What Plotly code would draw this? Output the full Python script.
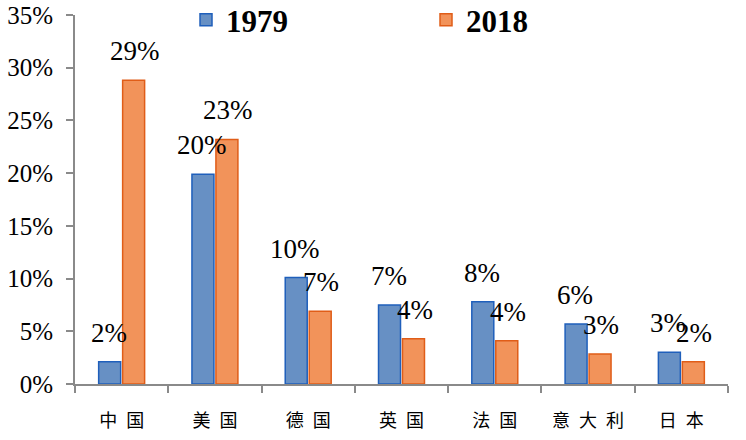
import plotly.graph_objects as go

categories = ["中\u2002国", "美\u2002国", "德\u2002国", "英\u2002国", "法\u2002国", "意\u2002大\u2002利", "日\u2002本"]
share_1979 = [2.1, 19.9, 10.1, 7.5, 7.8, 5.7, 3.0]
share_2018 = [28.8, 23.2, 6.9, 4.3, 4.1, 2.85, 2.1]
labels_1979 = ["2%", "20%", "10%", "7%", "8%", "6%", "3%"]
labels_2018 = ["29%", "23%", "7%", "4%", "4%", "3%", "2%"]
y_ticks = [0, 5, 10, 15, 20, 25, 30, 35]
y_tick_text = ["0%", "5%", "10%", "15%", "20%", "25%", "30%", "35%"]

SERIF = "Times New Roman, Liberation Serif, serif"
BLUE_FILL = "#6790c4"
BLUE_LINE = "#1f5fbb"
ORANGE_FILL = "#f2935a"
ORANGE_LINE = "#e05d18"

fig = go.Figure()
fig.add_trace(go.Bar(name="1979", x=categories, y=share_1979,
                     marker=dict(color=BLUE_FILL, line=dict(color=BLUE_LINE, width=1.5))))
fig.add_trace(go.Bar(name="2018", x=categories, y=share_2018,
                     marker=dict(color=ORANGE_FILL, line=dict(color=ORANGE_LINE, width=1.5))))

annots = []
for i, c in enumerate(categories):
    annots.append(dict(x=c, y=share_1979[i], text=labels_1979[i], xref="x", yref="y",
                       showarrow=False, xshift=-13, yshift=29, yanchor="middle",
                       font=dict(family=SERIF, size=27, color="black")))
    annots.append(dict(x=c, y=share_2018[i], text=labels_2018[i], xref="x", yref="y",
                       showarrow=False, xshift=13, yshift=29, yanchor="middle",
                       font=dict(family=SERIF, size=27, color="black")))

fig.update_layout(
    width=746, height=440,
    margin=dict(l=75, r=18, t=15, b=56, autoexpand=False),
    paper_bgcolor="white", plot_bgcolor="white",
    barmode="group", bargap=0.486, bargroupgap=0.083,
    annotations=annots,
    showlegend=True,
    legend=dict(orientation="h", x=0.17, y=0.986, xanchor="left", yanchor="middle",
                font=dict(family=SERIF, size=31, color="black", weight="bold"),
                entrywidth=195, bgcolor="rgba(0,0,0,0)"),
    font=dict(family=SERIF, color="black"),
)
fig.update_yaxes(range=[0, 35], tickmode="array", tickvals=y_ticks, ticktext=y_tick_text,
                 showgrid=False, zeroline=False,
                 showline=True, linecolor="#8a8a8a", linewidth=2,
                 ticks="outside", ticklen=7, tickcolor="#8a8a8a", tickwidth=2,
                 tickfont=dict(family=SERIF, size=25, color="black"),
                 ticklabelstandoff=8)
fig.update_xaxes(showgrid=False, showline=True, linecolor="#8a8a8a", linewidth=2,
                 ticks="outside", ticklen=7, tickcolor="#8a8a8a", tickwidth=2,
                 tickson="boundaries",
                 tickfont=dict(family="Noto Sans CJK SC", size=18, color="black"),
                 ticklabelstandoff=19)

fig.write_html("out.html", config={"displayModeBar": False},
               post_script="document.body.style.margin='0';document.body.style.overflow='hidden';")
